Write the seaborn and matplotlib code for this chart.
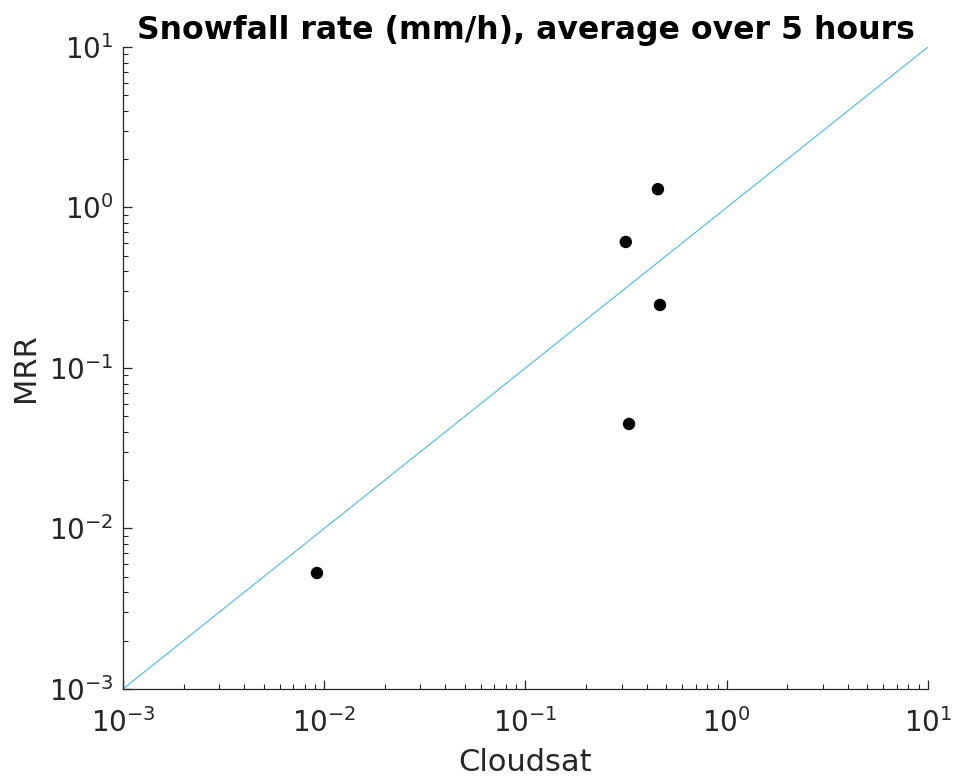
import matplotlib
matplotlib.use('Agg')
import matplotlib.pyplot as plt
import matplotlib.ticker as mticker
import seaborn as sns
import pandas as pd
import numpy as np

# Cloudsat vs MRR snowfall rates (mm/h), 5-hour averages
cloudsat = [0.0092, 0.315, 0.455, 0.466, 0.327]
mrr = [0.00528, 0.61, 1.30, 0.247, 0.0448]
one_to_one = [1e-3, 1e1]

sns.set_style('white')
plt.rcParams['font.family'] = ['DejaVu Sans']

df = pd.DataFrame({'Cloudsat': cloudsat, 'MRR': mrr})

fig = plt.figure(figsize=(9.55, 7.77), dpi=100)
ax = fig.add_axes([0.1288, 0.1133, 0.8429, 0.8262])

ax.plot(one_to_one, one_to_one, color='#5BC0E4', lw=0.9, zorder=1)
sns.scatterplot(data=df, x='Cloudsat', y='MRR', ax=ax, color='black',
                s=80, edgecolor='none', zorder=2)

ax.set_xscale('log')
ax.set_yscale('log')
ax.set_xlim(1e-3, 1e1)
ax.set_ylim(1e-3, 1e1)

ax.xaxis.set_major_locator(mticker.LogLocator(base=10, numticks=10))
ax.yaxis.set_major_locator(mticker.LogLocator(base=10, numticks=10))
ax.xaxis.set_minor_locator(mticker.LogLocator(base=10, subs=np.arange(2, 10), numticks=20))
ax.yaxis.set_minor_locator(mticker.LogLocator(base=10, subs=np.arange(2, 10), numticks=20))
ax.xaxis.set_minor_formatter(mticker.NullFormatter())
ax.yaxis.set_minor_formatter(mticker.NullFormatter())

for s in ['top', 'right']:
    ax.spines[s].set_visible(False)
for s in ['left', 'bottom']:
    ax.spines[s].set_color('#262626')
    ax.spines[s].set_linewidth(0.9)

ax.tick_params(which='both', direction='in', colors='#262626', left=True, bottom=True)
ax.tick_params(which='major', length=6.5, width=0.9, labelsize=20)
ax.tick_params(axis='x', which='major', pad=14)
ax.tick_params(axis='y', which='major', pad=7)
ax.tick_params(which='minor', length=3.5, width=0.8)

ax.set_xlabel('Cloudsat', fontsize=22, color='#262626', labelpad=7)
ax.set_ylabel('MRR', fontsize=22, color='#262626', labelpad=6)
ax.set_title('Snowfall rate (mm/h), average over 5 hours', fontsize=22.7,
             fontweight='bold', color='black', pad=6)

fig.savefig('out.png', dpi=100)
